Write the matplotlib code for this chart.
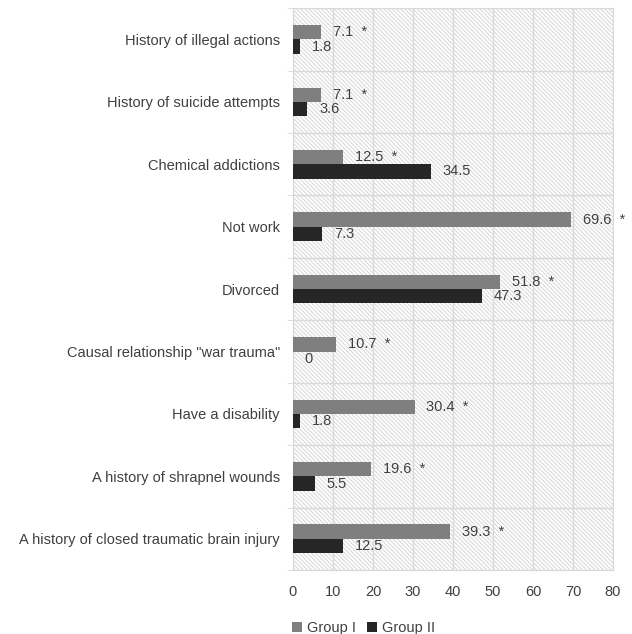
import matplotlib
matplotlib.use("Agg")
import matplotlib.pyplot as plt
import numpy as np
from matplotlib.patches import Rectangle

categories = [
    "History of illegal actions",
    "History of suicide attempts",
    "Chemical addictions",
    "Not work",
    "Divorced",
    'Causal relationship "war trauma"',
    "Have a disability",
    "A history of shrapnel wounds",
    "A history of closed traumatic brain injury",
]
group1 = [7.1, 7.1, 12.5, 69.6, 51.8, 10.7, 30.4, 19.6, 39.3]
group2 = [1.8, 3.6, 34.5, 7.3, 47.3, 0, 1.8, 5.5, 12.5]
xticks = [0, 10, 20, 30, 40, 50, 60, 70, 80]

plt.rcParams['font.family'] = ['Liberation Sans', 'DejaVu Sans']
plt.rcParams['hatch.linewidth'] = 0.7
plt.rcParams['hatch.color'] = '#d6d6d6'

text_col = '#404040'
grid_col = '#d9d9d9'
c1 = '#7f7f7f'
c2 = '#262626'
fs = 10.5

fig = plt.figure(figsize=(6.32, 6.34), dpi=100)
ax = fig.add_axes([0.4636, 0.101, 0.5064, 0.886])

# hatched background
bg = Rectangle((0, 0), 1, 1, transform=ax.transAxes, facecolor='white',
               edgecolor='#d6d6d6', hatch='\\' * 8, linewidth=0, zorder=0)
ax.add_patch(bg)

y = np.arange(len(categories))
h = 0.23
ax.barh(y - h / 2, group1, height=h, color=c1, label='Group I', zorder=3)
ax.barh(y + h / 2, group2, height=h, color=c2, label='Group II', zorder=3)

for yi, v in zip(y, group1):
    ax.annotate(f"{v:g}  *", (v, yi - h / 2), xytext=(8.5, 0), textcoords='offset points',
                va='center', ha='left', fontsize=fs, color=text_col)
for yi, v in zip(y, group2):
    ax.annotate(f"{v:g}", (v, yi + h / 2), xytext=(8.5, 0), textcoords='offset points',
                va='center', ha='left', fontsize=fs, color=text_col)

ax.set_xlim(0, 80)
ax.set_ylim(len(categories) - 0.5, -0.5)
ax.set_xticks(xticks)
ax.set_yticks(y)
ax.set_yticklabels(categories)
ax.set_yticks(np.arange(len(categories) + 1) - 0.5, minor=True)
ax.tick_params(axis='y', which='major', length=0, pad=9.5, labelsize=fs, labelcolor=text_col)
ax.tick_params(axis='y', which='minor', length=4, color=grid_col)
ax.tick_params(axis='x', length=0, pad=11, labelsize=fs, labelcolor=text_col)
ax.grid(True, axis='x', color=grid_col, linewidth=1, zorder=1)
ax.grid(True, axis='y', which='minor', color=grid_col, linewidth=1, zorder=1)
ax.set_axisbelow(True)
for s in ax.spines.values():
    s.set_color(grid_col)

fig.legend(loc='lower center', bbox_to_anchor=(0.575, -0.022), ncol=2, frameon=False,
           fontsize=fs, labelcolor=text_col, handlelength=0.7, handleheight=0.7,
           handletextpad=0.3, columnspacing=0.8)

fig.savefig("out.png", dpi=100)
